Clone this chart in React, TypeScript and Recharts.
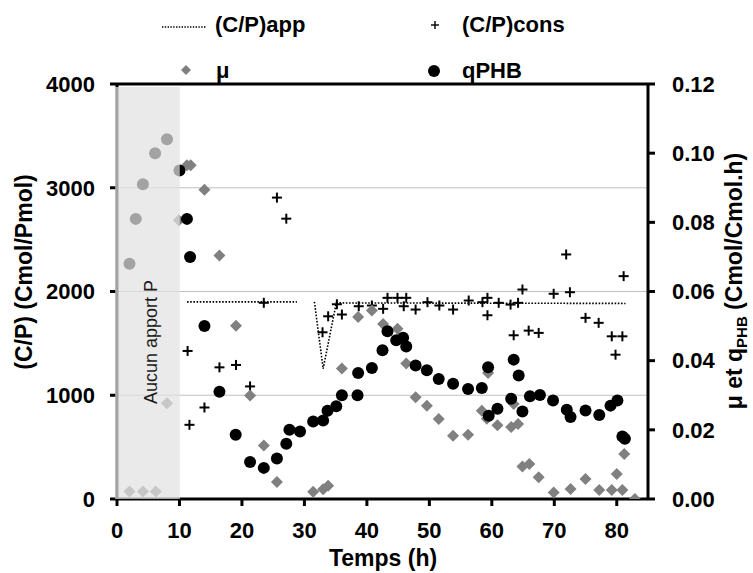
import {
  ComposedChart, Line, Scatter, XAxis, YAxis, CartesianGrid,
  ReferenceArea, ReferenceLine,
} from 'recharts';

// ── Data ──────────────────────────────────────────────────────────────────────

// (C/P)app : dotted line, left axis (null = gap)
const appT = [11.2, 28.8, 30.0, 31.6, 33.0, 35.1, 81.4];
const appV = [1900, 1900, null, 1900, 1256, 1890, 1885];

// (C/P)cons : plus markers, left axis
const consT = [
  11.3, 11.6, 14.0, 16.4, 19.05, 21.3, 23.5, 25.6, 27.1, 32.9, 33.8, 35.2,
  36.0, 38.7, 40.8, 42.6, 43.3, 44.9, 45.9, 46.3, 47.8, 49.7, 51.6, 53.8,
  56.3, 58.5, 59.3, 59.3, 61.1, 63.0, 63.5, 64.2, 64.9, 65.9, 67.5, 69.9,
  71.9, 72.5, 75.0, 77.1, 79.2, 79.8, 80.9, 81.1,
];
const consV = [
  1427, 715, 882, 1269, 1292, 1085, 1891, 2905, 2702, 1607, 1761, 1877,
  1778, 1858, 1865, 1833, 1939, 1939, 1858, 1939, 1826, 1897, 1865, 1826,
  1913, 1897, 1939, 1771, 1891, 1874, 1578, 1891, 2019, 1623, 1601, 1978,
  2357, 1993, 1746, 1698, 1568, 1391, 1568, 2148,
];

// μ : grey diamonds, right axis
const muT = [
  2.0, 4.15, 6.2, 8.0, 9.9, 11.2, 11.8, 14.0, 16.4, 19.05, 21.3, 23.5, 25.6,
  31.4, 33.0, 33.8, 36.0, 38.6, 40.8, 42.6, 44.9, 46.3, 47.8, 49.6, 51.5,
  53.8, 56.2, 58.4, 59.4, 59.2, 60.9, 63.1, 63.5, 64.2, 64.9, 66.0, 67.5,
  69.9, 72.6, 75.0, 77.2, 79.2, 80.0, 80.9, 81.2, 82.9,
];
const muV = [
  0.0022, 0.0022, 0.0022, 0.0277, 0.0806, 0.0965, 0.0965, 0.0894, 0.0704,
  0.0501, 0.0299, 0.0155, 0.0049, 0.0021, 0.0028, 0.0038, 0.0377, 0.0526,
  0.0545, 0.0506, 0.0492, 0.0392, 0.0294, 0.027, 0.0231, 0.0183, 0.0186,
  0.0255, 0.0364, 0.0232, 0.0213, 0.0208, 0.0275, 0.0217, 0.0094, 0.0101,
  0.0063, 0.0019, 0.0029, 0.0058, 0.0026, 0.0026, 0.0072, 0.0026, 0.013, 0.0,
];

// qPHB : black circles, right axis
const qT = [
  2.0, 3.0, 4.15, 6.1, 8.0, 10.0, 11.2, 11.7, 14.0, 16.4, 19.0, 21.3, 23.5,
  25.6, 27.1, 27.6, 29.3, 31.4, 33.0, 33.7, 35.1, 36.0, 38.5, 38.6, 40.8,
  42.5, 43.3, 44.7, 45.8, 46.3, 47.8, 49.6, 51.5, 53.8, 56.2, 58.4, 59.4,
  59.5, 60.9, 63.1, 63.5, 64.3, 64.9, 66.1, 67.7, 69.8, 72.0, 72.6, 75.0,
  77.2, 79.0, 80.1, 80.9, 81.3,
];
const qV = [
  0.068, 0.081, 0.091, 0.1, 0.104, 0.095, 0.081, 0.07, 0.05, 0.031, 0.0186,
  0.0107, 0.009, 0.0117, 0.016, 0.02, 0.0195, 0.0224, 0.0227, 0.0255, 0.0268,
  0.03, 0.03, 0.0364, 0.0379, 0.043, 0.0485, 0.0459, 0.0466, 0.0441, 0.0386,
  0.0372, 0.0347, 0.0333, 0.0318, 0.0321, 0.0381, 0.0241, 0.0261, 0.029,
  0.0403, 0.0357, 0.0253, 0.0297, 0.0301, 0.0285, 0.0258, 0.0237, 0.0256,
  0.0243, 0.027, 0.0285, 0.0181, 0.0174,
];

const xTicks = [0, 10, 20, 30, 40, 50, 60, 70, 80];
const leftTicks = [0, 1000, 2000, 3000, 4000];
const rightTicks = [0, 0.02, 0.04, 0.06, 0.08, 0.1, 0.12];

const zip = (ts: number[], vs: (number | null)[]) => ts.map((t, i) => ({ t, y: vs[i] }));
const appData = zip(appT, appV);
const consData = zip(consT, consV);
const muData = zip(muT, muV);
const qData = zip(qT, qV);

// ── Styling ───────────────────────────────────────────────────────────────────

const FONT = '"Liberation Sans", Arial, sans-serif';
const tickStyle = { fontSize: 22, fontWeight: 'bold', fill: '#000', fontFamily: FONT };
const titleStyle = { fontSize: 23, fontWeight: 'bold', fill: '#000', fontFamily: FONT } as const;

// eslint-disable-next-line @typescript-eslint/no-explicit-any
const Plus = ({ cx, cy }: any) => (
  <g stroke="#000" strokeWidth={2}>
    <line x1={cx - 5} x2={cx + 5} y1={cy} y2={cy} />
    <line x1={cx} x2={cx} y1={cy - 5} y2={cy + 5} />
  </g>
);

// eslint-disable-next-line @typescript-eslint/no-explicit-any
const Diamond = ({ cx, cy }: any) => (
  <polygon
    points={`${cx},${cy - 6} ${cx + 6},${cy} ${cx},${cy + 6} ${cx - 6},${cy}`}
    fill="#808080"
  />
);

// eslint-disable-next-line @typescript-eslint/no-explicit-any
const Dot = ({ cx, cy }: any) => <circle cx={cx} cy={cy} r={6} fill="#000" />;

export default function App() {
  return (
    <div style={{ position: 'absolute', left: 0, top: 0, width: 753, height: 573, background: '#fff' }}>
      <ComposedChart width={753} height={573} margin={{ top: 84, right: 0, bottom: 0, left: 0 }}>
        <CartesianGrid yAxisId="left" vertical={false} stroke="#c0c0c0" strokeWidth={1} />
        <XAxis
          type="number"
          dataKey="t"
          domain={[0, 85]}
          ticks={xTicks}
          height={74}
          tick={tickStyle}
          tickSize={7}
          tickMargin={16}
          axisLine={{ stroke: '#000', strokeWidth: 3 }}
          tickLine={{ stroke: '#000', strokeWidth: 3 }}
          allowDataOverflow
        />
        <YAxis
          yAxisId="left"
          type="number"
          dataKey="y"
          domain={[0, 4000]}
          ticks={leftTicks}
          width={117}
          tick={tickStyle}
          tickSize={7}
          tickMargin={15}
          axisLine={{ stroke: '#000', strokeWidth: 3 }}
          tickLine={{ stroke: '#000', strokeWidth: 3 }}
          allowDataOverflow
        />
        <YAxis
          yAxisId="right"
          orientation="right"
          type="number"
          dataKey="y"
          domain={[0, 0.12]}
          ticks={rightTicks}
          tickFormatter={(v: number) => v.toFixed(2)}
          width={105}
          tick={tickStyle}
          tickSize={7}
          tickMargin={17}
          axisLine={{ stroke: '#000', strokeWidth: 3 }}
          tickLine={{ stroke: '#000', strokeWidth: 3 }}
          allowDataOverflow
        />
        <ReferenceLine yAxisId="left" y={4000} stroke="#000" strokeWidth={3} />
        <Line
          yAxisId="left"
          data={appData}
          dataKey="y"
          type="linear"
          stroke="#000"
          strokeWidth={1.6}
          strokeDasharray="1.6 1.6"
          dot={false}
          activeDot={false}
          connectNulls={false}
          isAnimationActive={false}
        />
        <Scatter yAxisId="left" data={consData} dataKey="y" shape={Plus} isAnimationActive={false} />
        <Scatter yAxisId="right" data={muData} dataKey="y" shape={Diamond} isAnimationActive={false} />
        <Scatter yAxisId="right" data={qData} dataKey="y" shape={Dot} isAnimationActive={false} />
        {/* "Aucun apport P" band, drawn over the points */}
        <ReferenceArea
          yAxisId="left"
          x1={-0.3}
          x2={10.05}
          y1={0}
          y2={3970}
          fill="#e2e2e2"
          fillOpacity={0.72}
          stroke="none"
          ifOverflow="visible"
          zIndex={700}
        />
      </ComposedChart>

      {/* Legend, titles, band label */}
      <svg width={753} height={573} style={{ position: 'absolute', left: 0, top: 0, pointerEvents: 'none' }}>
        <line x1={162} x2={206} y1={27} y2={27} stroke="#000" strokeWidth={1.4} strokeDasharray="1.4 1.4" />
        <text x={215} y={32} {...tickStyle}>(C/P)app</text>
        <g stroke="#000" strokeWidth={1.4}>
          <line x1={431} x2={439} y1={25} y2={25} />
          <line x1={435} x2={435} y1={21} y2={29} />
        </g>
        <text x={462} y={32} {...tickStyle}>(C/P)cons</text>
        <polygon points="186,65 191,70 186,75 181,70" fill="#808080" />
        <text x={216} y={78} {...tickStyle}>μ</text>
        <circle cx={434} cy={71} r={6} fill="#000" />
        <text x={462} y={78} {...tickStyle}>qPHB</text>

        <text x={32} y={272} textAnchor="middle" transform="rotate(-90 32 272)" {...titleStyle}>
          (C/P) (Cmol/Pmol)
        </text>
        <text x={742} y={281} textAnchor="middle" transform="rotate(-90 742 281)" {...titleStyle}>
          μ et q<tspan fontSize={15} dy={5}>PHB</tspan><tspan dy={-5}> (Cmol/Cmol.h)</tspan>
        </text>
        <text x={383} y={566} textAnchor="middle" {...titleStyle}>Temps (h)</text>

        <text
          x={157}
          y={342}
          textAnchor="middle"
          transform="rotate(-90 157 342)"
          fontSize={18}
          fontFamily={FONT}
          fill="#1a1a1a"
        >
          Aucun apport P
        </text>
      </svg>
    </div>
  );
}
